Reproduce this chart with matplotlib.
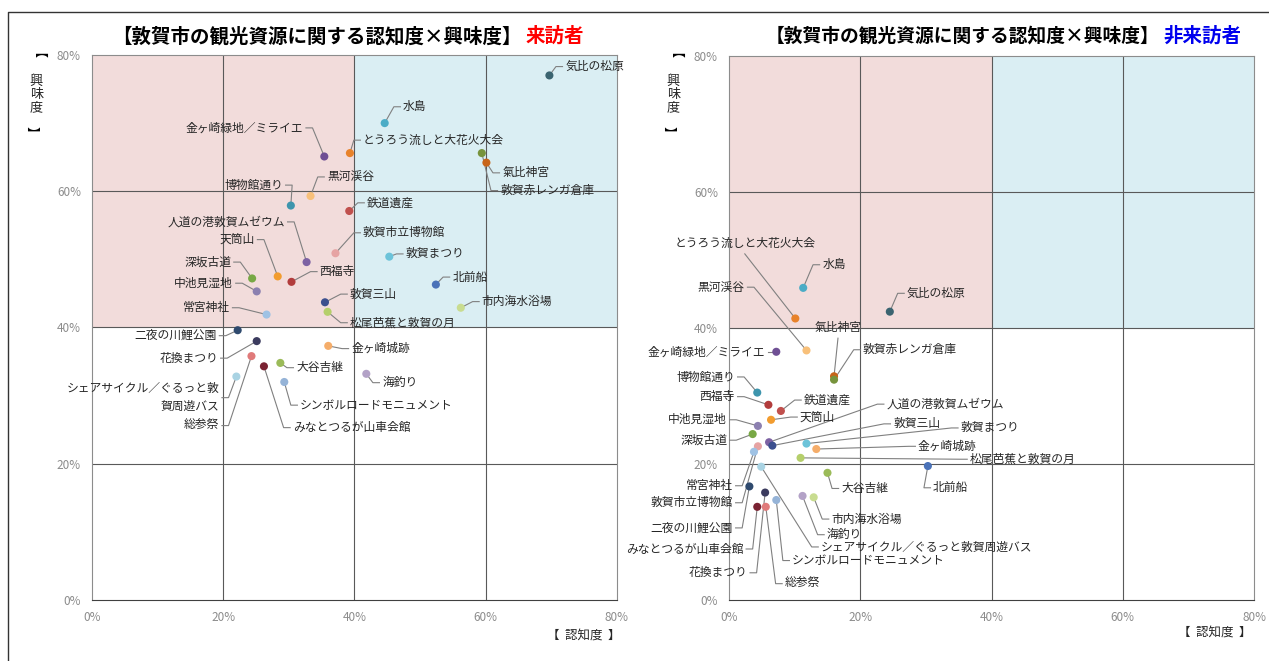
import matplotlib.pyplot as plt
from matplotlib.patches import Rectangle
from matplotlib.lines import Line2D

plt.rcParams['font.family'] = ['Noto Sans CJK JP', 'DejaVu Sans']

names = ['気比の松原', '水島', '金ヶ崎緑地／ミライエ', 'とうろう流しと大花火大会', '氣比神宮',
         '敦賀赤レンガ倉庫', '博物館通り', '黒河渓谷', '鉄道遺産', '人道の港敦賀ムゼウム',
         '敦賀市立博物館', '敦賀まつり', '天筒山', '西福寺', '深坂古道', '中池見湿地', '北前船',
         '敦賀三山', '常宮神社', '松尾芭蕉と敦賀の月', '市内海水浴場', '二夜の川鯉公園',
         '金ヶ崎城跡', '花換まつり', '総参祭', 'みなとつるが山車会館', '大谷吉継',
         'シェアサイクル／ぐるっと敦賀周遊バス', 'シンボルロードモニュメント', '海釣り']

# 来訪者 (認知度 %, 興味度 %)
visitor_x = [69.7, 44.6, 35.4, 39.3, 60.1, 59.4, 30.3, 33.3, 39.2, 32.7,
             37.1, 45.3, 28.3, 30.4, 24.4, 25.1, 52.4, 35.5, 26.6, 35.9,
             56.2, 22.2, 36.0, 25.1, 24.3, 26.2, 28.7, 22.0, 29.3, 41.8]
visitor_y = [77.0, 70.0, 65.1, 65.6, 64.2, 65.6, 57.9, 59.3, 57.1, 49.6,
             50.9, 50.4, 47.5, 46.7, 47.2, 45.3, 46.3, 43.7, 41.9, 42.3,
             42.9, 39.6, 37.3, 38.0, 35.8, 34.3, 34.8, 32.8, 32.0, 33.2]

# 非来訪者
nonvisitor_x = [24.5, 11.3, 7.2, 10.1, 16.0, 16.0, 4.3, 11.8, 7.9, 6.1,
                4.4, 11.8, 6.4, 6.0, 3.6, 4.4, 30.3, 6.6, 3.8, 10.9,
                12.9, 3.1, 13.3, 5.5, 5.6, 4.3, 15.0, 4.9, 7.2, 11.2]
nonvisitor_y = [42.4, 45.9, 36.5, 41.4, 32.9, 32.4, 30.5, 36.7, 27.8, 23.2,
                22.6, 23.0, 26.5, 28.7, 24.4, 25.6, 19.7, 22.7, 21.8, 20.9,
                15.1, 16.7, 22.2, 15.8, 13.7, 13.7, 18.7, 19.6, 14.7, 15.3]

colors = ['#3b6470', '#4bacc6', '#6f4f94', '#e8822a', '#c86418',
          '#77933c', '#3e95ad', '#f8c07a', '#c0504d', '#7d62a3',
          '#e6a3a3', '#6cc3d9', '#f29c2f', '#b23c3c', '#78a845',
          '#8c80b0', '#4a72b8', '#3c4f8e', '#9fc2e4', '#b5cf6b',
          '#c8dc90', '#2f4a6e', '#f5ad6a', '#3b3b5e', '#e07a7a',
          '#7a2232', '#9bbb59', '#a9d3e3', '#95b3d7', '#b3a2c7']

# label placement (x, y, alignment) in data units
left_labels = {
    '気比の松原': (72.1, 78.3, 'left'), '水島': (47.4, 72.4, 'left'),
    '金ヶ崎緑地／ミライエ': (32.2, 69.3, 'right'), 'とうろう流しと大花火大会': (41.3, 67.5, 'left'),
    '氣比神宮': (62.5, 62.7, 'left'), '敦賀赤レンガ倉庫': (62.2, 60.1, 'left'),
    '黒河渓谷': (35.8, 62.1, 'left'), '博物館通り': (29.1, 60.9, 'right'),
    '鉄道遺産': (41.9, 58.3, 'left'), '人道の港敦賀ムゼウム': (29.4, 55.5, 'right'),
    '敦賀市立博物館': (41.3, 53.9, 'left'), '天筒山': (24.8, 52.9, 'right'),
    '敦賀まつり': (47.8, 50.8, 'left'), '深坂古道': (21.2, 49.6, 'right'),
    '西福寺': (34.7, 48.2, 'left'), '北前船': (54.9, 47.4, 'left'),
    '中池見湿地': (21.5, 46.5, 'right'), '敦賀三山': (39.3, 44.9, 'left'),
    '市内海水浴場': (59.4, 43.8, 'left'), '常宮神社': (21.0, 42.9, 'right'),
    '松尾芭蕉と敦賀の月': (39.3, 40.7, 'left'), '二夜の川鯉公園': (19.0, 38.8, 'right'),
    '金ヶ崎城跡': (39.5, 36.9, 'left'), '花換まつり': (19.2, 35.5, 'right'),
    '大谷吉継': (31.1, 34.1, 'left'), '海釣り': (44.2, 31.9, 'left'),
    'シェアサイクル／ぐるっと敦賀周遊バス': (19.4, 29.7, 'right'),
    'シンボルロードモニュメント': (31.7, 28.6, 'left'), '総参祭': (19.4, 25.6, 'right'),
    'みなとつるが山車会館': (30.6, 25.3, 'left'),
}
right_labels = {
    'とうろう流しと大花火大会': (2.4, 52.5, 'center'), '水島': (14.2, 49.3, 'left'),
    '黒河渓谷': (2.4, 46.0, 'right'), '気比の松原': (27.1, 45.1, 'left'),
    '氣比神宮': (16.6, 40.1, 'center'), '敦賀赤レンガ倉庫': (20.4, 36.8, 'left'),
    '金ヶ崎緑地／ミライエ': (5.5, 36.5, 'right'), '博物館通り': (0.9, 32.8, 'right'),
    '西福寺': (0.9, 29.9, 'right'), '鉄道遺産': (11.4, 29.4, 'left'),
    '人道の港敦賀ムゼウム': (24.0, 28.8, 'left'), '天筒山': (10.8, 26.9, 'left'),
    '中池見湿地': (-0.3, 26.5, 'right'), '敦賀三山': (25.0, 25.9, 'left'),
    '敦賀まつり': (35.3, 25.3, 'left'), '深坂古道': (-0.3, 23.5, 'right'),
    '金ヶ崎城跡': (28.8, 22.6, 'left'), '松尾芭蕉と敦賀の月': (36.7, 20.7, 'left'),
    '北前船': (31.1, 16.5, 'left'), '大谷吉継': (17.1, 16.4, 'left'),
    '常宮神社': (0.6, 16.8, 'right'), '敦賀市立博物館': (0.6, 14.3, 'right'),
    '市内海水浴場': (15.6, 11.9, 'left'), '二夜の川鯉公園': (0.6, 10.6, 'right'),
    '海釣り': (14.9, 9.6, 'left'), 'シェアサイクル／ぐるっと敦賀周遊バス': (14.0, 7.8, 'left'),
    'みなとつるが山車会館': (2.2, 7.5, 'right'), 'シンボルロードモニュメント': (9.6, 5.8, 'left'),
    '花換まつり': (2.8, 4.0, 'right'), '総参祭': (8.5, 2.4, 'left'),
}

fig = plt.figure(figsize=(12.69, 6.61), dpi=100)
fig.add_artist(Line2D([0.0063, 0.0063, 1.0], [0.0, 0.982, 0.982], color='#333333', lw=1.0))


def draw(ax, xs, ys, labels, left_text):
    ax.set_xlim(0, 80)
    ax.set_ylim(0, 80)
    ax.add_patch(Rectangle((0, 40), 40, 40, color='#f2dcdb', zorder=0, lw=0))
    ax.add_patch(Rectangle((40, 40), 40, 40, color='#daeef3', zorder=0, lw=0))
    for v in (20, 40, 60):
        ax.axvline(v, color='#595959', lw=0.8, zorder=1)
        ax.axhline(v, color='#595959', lw=0.8, zorder=1)
    for s in ax.spines.values():
        s.set_color('#8c8c8c')
        s.set_linewidth(0.8)
    ax.spines['bottom'].set_color('#404040')
    ax.set_xticks([0, 20, 40, 60, 80])
    ax.set_yticks([0, 20, 40, 60, 80])
    ax.set_xticklabels(['0%', '20%', '40%', '60%', '80%'])
    ax.set_yticklabels(['0%', '20%', '40%', '60%', '80%'])
    ax.tick_params(length=0, colors='#8c8c8c', labelsize=8.5, pad=8)

    for name, x, y, c in zip(names, xs, ys, colors):
        ax.scatter(x, y, s=34, color=c, zorder=4, edgecolors='none')
        lx, ly, ha = labels[name]
        text = name
        if left_text and name.startswith('シェアサイクル'):
            text = 'シェアサイクル／ぐるっと敦\n賀周遊バス'
        if ha == 'left':
            sx = [lx - 0.4, lx - 1.4]
            sy = [ly, ly]
        elif ha == 'right':
            sx = [lx + 0.4, lx + 1.4]
            sy = [ly, ly]
        else:
            sx = [lx, lx]
            sy = [ly - 1.6, ly - 1.6]
        ax.plot(sx + [x], sy + [y], color='#808080', lw=0.8, zorder=3, clip_on=False)
        ax.text(lx, ly, text, ha=ha, va='center', fontsize=8.5, color='#262626',
                zorder=5, multialignment='right', linespacing=1.5)


ax1 = fig.add_axes([0.0725, 0.0923, 0.4137, 0.8245])
draw(ax1, visitor_x, visitor_y, left_labels, True)
ax2 = fig.add_axes([0.5745, 0.0923, 0.4137, 0.8230])
draw(ax2, nonvisitor_x, nonvisitor_y, right_labels, False)

title = '【敦賀市の観光資源に関する認知度×興味度】'
fig.text(0.411, 0.945, title, ha='right', va='center', fontsize=14, weight='bold')
fig.text(0.414, 0.945, '来訪者', ha='left', va='center', fontsize=14, weight='bold', color='#ff0000')
fig.text(0.914, 0.945, title, ha='right', va='center', fontsize=13.5, weight='bold')
fig.text(0.917, 0.945, '非来訪者', ha='left', va='center', fontsize=14, weight='bold', color='#0000ee')

# vertical y-axis title 【興味度】
for xl in (0.0285, 0.5305):
    fig.text(xl - 0.004, 0.912, '【', ha='center', va='center', fontsize=9.5, rotation=-90)
    fig.text(xl, 0.857, '興\n味\n度', ha='center', va='center', fontsize=9.5, linespacing=1.05,
             color='#262626')
    fig.text(xl - 0.004, 0.800, '】', ha='center', va='center', fontsize=9.5, rotation=-90)
fig.text(0.460, 0.039, '【  認知度  】', ha='center', va='center', fontsize=9, color='#262626')
fig.text(0.957, 0.044, '【  認知度  】', ha='center', va='center', fontsize=9, color='#262626')

plt.savefig('out.png', dpi=100)
